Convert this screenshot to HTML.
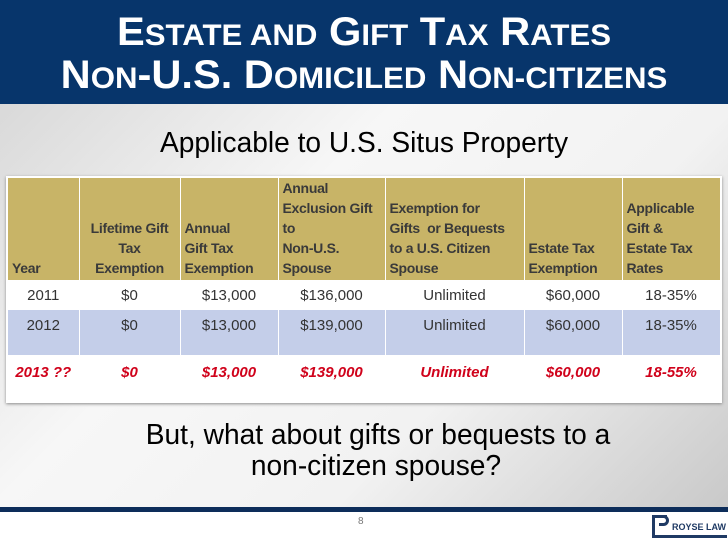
<!DOCTYPE html>
<html><head><meta charset="utf-8"><style>
*{margin:0;padding:0;box-sizing:border-box}
body{width:728px;height:546px;position:relative;overflow:hidden;background:#fff;font-family:"Liberation Sans",sans-serif}
#hdr{position:absolute;left:0;top:0;width:728px;height:104px;background:#07356b}
.tl{position:absolute;left:0;width:728px;text-align:center;color:#fff;font-weight:bold;font-size:40px;transform:scaleX(1.04);line-height:44px}
.sc{font-size:30px}
#bg{position:absolute;left:0;top:104px;width:728px;height:403px;background:linear-gradient(135deg,#d9d9d9 0%,#f7f7f7 35%,#f2f2f2 65%,#c9c9c9 100%)}
#rule{position:absolute;left:0;top:507px;width:728px;height:5px;background:#0d2d5a}
.t{position:absolute;left:0;width:728px;text-align:center;color:#000;font-size:29px;transform:scaleX(0.97)}
#tbl{position:absolute;left:6px;top:176px;width:716px;height:227px;background:#fff;box-shadow:0 1px 3px #888}
table{position:absolute;left:2px;top:2px;border-collapse:collapse;font-family:"Liberation Sans",sans-serif;font-size:14px;table-layout:fixed}
td,th{border-right:1px solid #fff;padding:0 4px;white-space:nowrap;overflow:visible}
th{background:#c8b467;color:#3a3a3a;font-weight:bold;text-align:left;vertical-align:bottom;height:102px;line-height:20px;padding-bottom:2px;letter-spacing:-0.3px}
td{text-align:center;color:#333;vertical-align:top;padding-top:7px;font-size:15px}
tr.r1 td{height:30px;background:#fff}
tr.r2 td{height:45px;background:#c4cee9}
tr.r3 td{height:46px;background:#fff;color:#d0021b;font-weight:bold;font-style:italic;padding-top:9px}
</style></head><body>
<div id="hdr"></div>
<div class="tl" style="top:10px">E<span class="sc">STATE AND</span> G<span class="sc">IFT</span> T<span class="sc">AX</span> R<span class="sc">ATES</span></div>
<div class="tl" style="top:53px">N<span class="sc">ON</span>-U.S. D<span class="sc">OMICILED</span> N<span class="sc">ON-CITIZENS</span></div>
<div id="bg"></div>
<div class="t" style="top:127px">Applicable to U.S. Situs Property</div>
<div id="tbl">
<table>
<colgroup><col style="width:71px"><col style="width:101px"><col style="width:98px"><col style="width:107px"><col style="width:139px"><col style="width:98px"><col style="width:98px"></colgroup>
<tr><th>Year</th>
<th style="text-align:center">Lifetime Gift<br>Tax<br>Exemption</th>
<th>Annual<br>Gift Tax<br>Exemption</th>
<th>Annual<br>Exclusion Gift<br>to<br>Non-U.S.<br>Spouse</th>
<th>Exemption for<br>Gifts&nbsp; or Bequests<br>to a U.S. Citizen<br>Spouse</th>
<th>Estate Tax<br>Exemption</th>
<th style="border-right:none">Applicable<br>Gift &amp;<br>Estate Tax<br>Rates</th></tr>
<tr class="r1"><td>2011</td><td>$0</td><td>$13,000</td><td>$136,000</td><td>Unlimited</td><td>$60,000</td><td>18-35%</td></tr>
<tr class="r2"><td>2012</td><td>$0</td><td>$13,000</td><td>$139,000</td><td>Unlimited</td><td>$60,000</td><td>18-35%</td></tr>
<tr class="r3"><td>2013 ??</td><td>$0</td><td>$13,000</td><td>$139,000</td><td>Unlimited</td><td>$60,000</td><td>18-55%</td></tr>
</table></div>
<div class="t" style="top:419px;left:14px">But, what about gifts or bequests to a</div>
<div class="t" style="top:450px;left:12px">non-citizen spouse?</div>
<div id="rule"></div>
<div style="position:absolute;left:358px;top:516px;font-size:10px;color:#777">8</div>
<div style="position:absolute;left:652px;top:515px;width:15px;height:22px;border:3px solid #1f3a64;border-right:none;border-bottom:none"></div>
<div style="position:absolute;left:652px;top:535px;width:75px;height:3px;background:#1f3a64"></div>
<div style="position:absolute;left:659px;top:515px;width:10px;height:11px;border:3px solid #1f3a64;border-left:none;border-radius:0 6px 6px 0"></div>
<div style="position:absolute;left:672px;top:522px;font-size:9px;font-weight:bold;color:#1f3a64;white-space:nowrap">ROYSE LAW</div>
</body></html>
